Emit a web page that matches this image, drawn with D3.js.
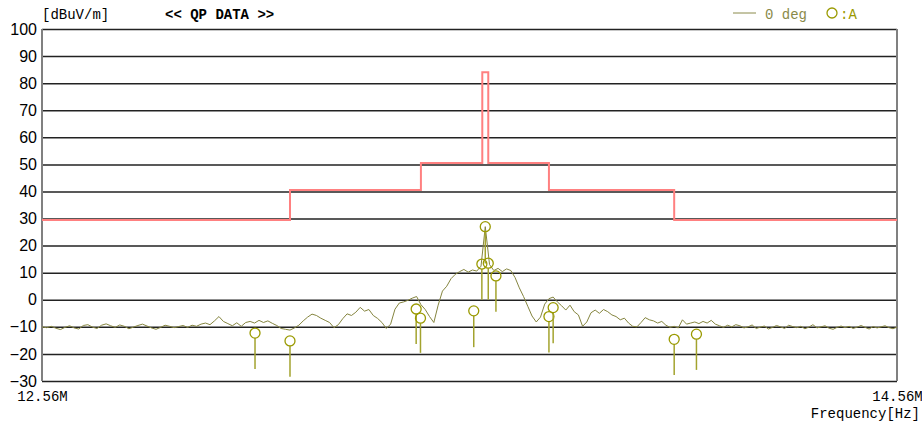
<!DOCTYPE html>
<html>
<head>
<meta charset="utf-8">
<script src="https://cdn.jsdelivr.net/npm/d3@7"></script>
<style>
  body { margin: 0; background: #fff; }
  .mono { font-family: "Liberation Mono", "DejaVu Sans Mono", monospace; }
</style>
</head>
<body>
<div class="emi"></div>
<script>
// limit line (step), MHz / dBuV/m
var limitFreq = [12.56, 13.11, 13.41, 13.553, 13.567, 13.71, 14.01, 14.56];
var limitLevel = [29.5, 40.5, 50.5, 84.0, 50.5, 40.5, 29.5, 29.5];

// sweep 12.56 .. 14.56 MHz, 0.01 MHz step
var sweepStart = 12.56, sweepStep = 0.01;
var traceLevel = [
  -10.0,-10.3,-9.8,-10.5,-11.0,-10.2,-9.6,-10.4,-10.8,-9.5,
  -9.2,-10.1,-10.6,-9.4,-8.9,-9.6,-10.2,-9.3,-9.8,-10.7,
  -10.1,-9.5,-9.0,-9.7,-10.4,-10.9,-10.2,-9.4,-9.8,-10.3,
  -9.9,
  -9.5,-10.2,-9.4,-9.8,-9.0,-8.6,-9.2,-7.8,-6.2,-8.0,
  -8.8,-9.6,-8.5,-9.8,-8.4,-8.0,-8.6,-7.6,-8.4,-7.8,
  -8.7,-9.5,-10.6,-10.9,-11.2,-10.4,-9.4,-7.8,-6.4,-5.3,
  -5.8,-6.8,-7.6,-8.4,-10.3,-9.2,-7.0,-5.2,-5.8,-4.6,
  -2.8,-4.2,-3.6,-5.8,-6.9,-8.4,-10.6,-9.0,-3.5,-1.2,
  -0.8,-0.2,0.6,1.2,-1.8,-3.6,-6.2,-8.4,-2.0,3.2,
  5.0,7.8,9.4,10.4,11.2,10.2,11.0,10.6,12.4,27.0,
  13.0,10.8,11.6,10.4,11.4,10.8,8.2,4.4,1.2,-2.4,
  -6.0,-8.2,-6.4,-1.6,0.4,1.0,-0.8,-2.2,-3.8,-2.0,
  -4.4,-5.6,-9.8,-8.2,-4.8,-3.8,-5.0,-3.6,-4.4,-5.6,
  -6.2,-7.4,-6.8,-8.6,-9.8,-10.0,-8.4,-6.6,-7.4,-7.8,
  -8.6,-8.0,-9.4,-10.2,-9.8,-10.4,-7.4,-9.0,-8.6,-8.2,
  -8.8,-8.0,-8.6,-7.6,-9.0,-9.6,-10.2,-9.4,-10.0,-9.2,
  -9.6,-10.4,-10.0,-9.3,-10.6,-10.1,-9.7,-10.8,-10.2,-9.5,
  -10.0,-10.6,-9.4,-9.9,-10.3,-9.8,-10.7,-10.1,-9.2,-10.4,
  -10.0,-9.6,-10.5,-10.9,-10.2,-9.7,-10.3,-9.8,-10.6,-10.1,
  -9.5,-10.2,-10.8,-9.9,-10.4,-10.0,-9.6,-10.3,-10.7,-10.1
];

// QP markers: circle level and lower level of the stem
var markerFreq = [13.031, 13.110, 13.399, 13.409, 13.533, 13.552, 13.560, 13.567, 13.585, 13.710, 13.720, 14.010, 14.064];
var markerQP = [-12.3, -15.2, -3.4, -6.8, -4.1, 13.2, 27.0, 13.5, 8.8, -6.2, -2.9, -14.6, -12.7];
var markerLow = [-25.6, -28.4, -16.3, -19.6, -17.5, 0.0, 13.4, 0.0, -4.4, -19.5, -16.1, -27.8, -25.9];

var yTicks = d3.range(-30, 101, 10);

document.addEventListener("DOMContentLoaded", drawChart)

function drawChart() {
  var width = 922,
    height = 425,
    margin = { top: 29, right: 25, bottom: 44, left: 42 },
    w = width - margin.left - margin.right,
    h = height - margin.top - margin.bottom;

  var svg = d3.select(".emi").append("svg")
    .attr("width", width)
    .attr("height", height)

  var g = svg.append("g")
    .attr("transform", `translate(${margin.left},${margin.top})`)

  var x = d3.scaleLog()
    .domain([12.56, 14.56])
    .range([0, w]),
    y = d3.scaleLinear()
    .domain([-30, 100])
    .range([h, 0]);

  // grid + y labels
  var yAxis = g.append("g")
    .call(d3.axisLeft(y).tickValues(yTicks).tickSizeInner(-w).tickSizeOuter(0).tickPadding(5))
  yAxis.select(".domain").remove()
  yAxis.selectAll("line")
    .attr("stroke", "#222")
    .attr("stroke-width", 1.5)
  yAxis.selectAll("text")
    .attr("font-family", "Liberation Sans, Arial, sans-serif")
    .attr("font-size", 16)
    .attr("fill", "#000")

  // frame: left and right borders
  g.append("line")
    .attr("x1", 0).attr("x2", 0).attr("y1", 0).attr("y2", h)
    .attr("stroke", "#808080").attr("stroke-width", 2)
  g.append("line")
    .attr("x1", w).attr("x2", w).attr("y1", 0).attr("y2", h)
    .attr("stroke", "#808080").attr("stroke-width", 2)

  // x end labels
  var xAxis = g.append("g")
    .attr("transform", `translate(0,${h})`)
    .call(d3.axisBottom(x).tickValues([12.56, 14.56]).tickSize(0).tickPadding(10)
      .tickFormat(d => d.toFixed(2) + "M"))
  xAxis.select(".domain").remove()
  xAxis.selectAll("text")
    .attr("class", "mono")
    .attr("font-size", 14)
    .attr("fill", "#000")

  svg.append("text")
    .attr("class", "mono")
    .attr("x", 920).attr("y", 418)
    .attr("text-anchor", "end")
    .attr("font-size", 14)
    .text("Frequency[Hz]")

  svg.append("text")
    .attr("class", "mono")
    .attr("x", 42).attr("y", 19)
    .attr("font-size", 14)
    .text("[dBuV/m]")

  svg.append("text")
    .attr("class", "mono")
    .attr("x", 165).attr("y", 19)
    .attr("font-size", 14)
    .attr("font-weight", "bold")
    .text("<< QP DATA >>")

  // legend
  svg.append("line")
    .attr("x1", 733).attr("x2", 756).attr("y1", 13).attr("y2", 13)
    .attr("stroke", "#8a8a4a").attr("stroke-width", 1)
  svg.append("text")
    .attr("class", "mono")
    .attr("x", 765).attr("y", 19)
    .attr("font-size", 14)
    .attr("fill", "#8a8a4a")
    .text("0 deg")
  svg.append("circle")
    .attr("cx", 832).attr("cy", 13).attr("r", 5)
    .attr("fill", "none").attr("stroke", "#9a9a00").attr("stroke-width", 1.3)
  svg.append("text")
    .attr("class", "mono")
    .attr("x", 840).attr("y", 19)
    .attr("font-size", 14)
    .attr("fill", "#9a9a00")
    .text(":A")

  // limit line
  var limitLine = d3.line()
    .x((d, i) => x(limitFreq[i]))
    .y(d => y(d))
    .curve(d3.curveStepAfter)
  g.append("path")
    .datum(limitLevel)
    .attr("d", limitLine)
    .attr("fill", "none")
    .attr("stroke", "#ff8080")
    .attr("stroke-width", 2)

  // measured trace
  var traceLine = d3.line()
    .x((d, i) => x(sweepStart + i * sweepStep))
    .y(d => y(d))
  g.append("path")
    .datum(traceLevel)
    .attr("d", traceLine)
    .attr("fill", "none")
    .attr("stroke", "#85853f")
    .attr("stroke-width", 1)

  // markers
  var r = 5
  var markers = g.append("g")
    .selectAll("g")
    .data(markerFreq)
    .enter().append("g")

  markers.append("line")
    .attr("x1", d => x(d)).attr("x2", d => x(d))
    .attr("y1", (d, i) => y(markerQP[i]) + r)
    .attr("y2", (d, i) => y(markerLow[i]))
    .attr("stroke", "#a3a32e")
    .attr("stroke-width", 1.5)

  markers.append("circle")
    .attr("cx", d => x(d))
    .attr("cy", (d, i) => y(markerQP[i]))
    .attr("r", r)
    .attr("fill", "none")
    .attr("stroke", "#9a9a00")
    .attr("stroke-width", 1.3)
}
</script>
</body>
</html>
